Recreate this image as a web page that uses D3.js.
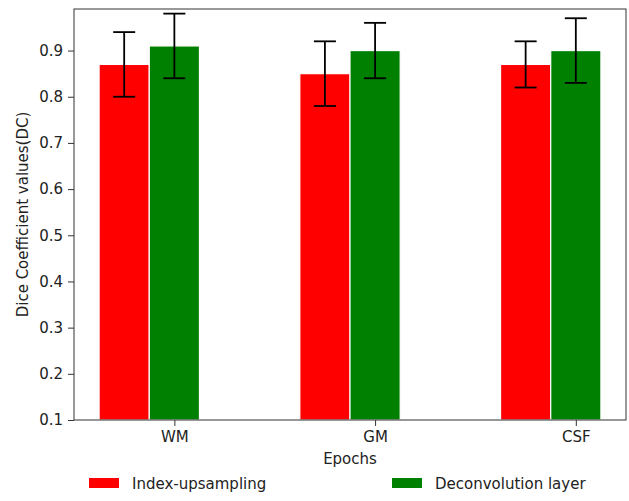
<!DOCTYPE html>
<html><head><meta charset="utf-8">
<script src="https://cdn.jsdelivr.net/npm/d3@7"></script>
<style>body{margin:0;background:#fff}svg{display:block}text{font-family:"DejaVu Sans",sans-serif;fill:#222}</style>
</head><body>
<script>
const categories = ["WM", "GM", "CSF"];
const seriesNames = ["Index-upsampling", "Deconvolution layer"];
const seriesColors = ["#ff0000", "#008000"];
const indexUpsampling = [0.87, 0.85, 0.87];
const indexUpsamplingErr = [0.07, 0.07, 0.05];
const deconvolution = [0.91, 0.90, 0.90];
const deconvolutionErr = [0.07, 0.06, 0.07];
const yTicks = [0.1, 0.2, 0.3, 0.4, 0.5, 0.6, 0.7, 0.8, 0.9];

const W = 629, H = 501;
const m = {left: 74, right: 626, top: 9, bottom: 420};
const barW = 0.25;
const svg = d3.select("body").append("svg").attr("width", W).attr("height", H);

const x = d3.scaleLinear().domain([-0.25, 2.5]).range([m.left, m.right]);
const y = d3.scaleLinear().domain([0.1, 0.99]).range([m.bottom, m.top]);

const series = [
  {vals: indexUpsampling, err: indexUpsamplingErr, off: 0, color: seriesColors[0]},
  {vals: deconvolution, err: deconvolutionErr, off: barW, color: seriesColors[1]}
];

const g = svg.append("g");
series.forEach(s => {
  g.selectAll(null).data(s.vals).enter().append("rect")
    .attr("x", (d, i) => x(i + s.off - barW / 2))
    .attr("width", x(barW) - x(0))
    .attr("y", d => y(d))
    .attr("height", d => y(0.1) - y(d))
    .attr("fill", s.color)
    .attr("stroke", "#fff").attr("stroke-width", 1.2);
});
series.forEach(s => {
  s.vals.forEach((d, i) => {
    const cx = x(i + s.off);
    const lo = y(d - s.err[i]), hi = y(d + s.err[i]);
    g.append("line").attr("x1", cx).attr("x2", cx).attr("y1", lo).attr("y2", hi)
      .attr("stroke", "#000").attr("stroke-width", 1.8);
    [lo, hi].forEach(yy => g.append("line").attr("x1", cx - 11).attr("x2", cx + 11)
      .attr("y1", yy).attr("y2", yy).attr("stroke", "#000").attr("stroke-width", 1.8));
  });
});

// frame
svg.append("rect").attr("x", m.left).attr("y", m.top)
  .attr("width", m.right - m.left).attr("height", m.bottom - m.top)
  .attr("fill", "none").attr("stroke", "#333").attr("stroke-width", 1);

// y axis
const yAxis = svg.append("g").attr("transform", `translate(${m.left},0)`)
  .call(d3.axisLeft(y).tickValues(yTicks).tickFormat(d3.format(".1f")).tickSize(6).tickPadding(5));
yAxis.select(".domain").remove();
yAxis.selectAll("line").attr("stroke", "#333");
yAxis.selectAll("text").style("font-size", "15px").attr("fill", "#222").style("font-family", "DejaVu Sans");

// x axis
const xAxis = svg.append("g").attr("transform", `translate(0,${m.bottom})`)
  .call(d3.axisBottom(x).tickValues([0 + barW, 1 + barW, 2 + barW])
    .tickFormat((d, i) => categories[i]).tickSize(6).tickPadding(5));
xAxis.select(".domain").remove();
xAxis.selectAll("line").attr("stroke", "#333");
xAxis.selectAll("text").style("font-size", "15px").attr("fill", "#222").style("font-family", "DejaVu Sans");

// axis titles
svg.append("text").attr("x", 350).attr("y", 464).attr("text-anchor", "middle")
  .style("font-size", "15px").text("Epochs");
svg.append("text").attr("transform", `translate(28,${(m.top + m.bottom) / 2}) rotate(-90)`)
  .attr("text-anchor", "middle").style("font-size", "15px").text("Dice Coefficient values(DC)");

// legend
const legX = [89, 392];
seriesNames.forEach((n, i) => {
  svg.append("rect").attr("x", legX[i]).attr("y", 478).attr("width", 30).attr("height", 10)
    .attr("fill", seriesColors[i]);
  svg.append("text").attr("x", legX[i] + 43).attr("y", 489).style("font-size", "15px").text(n);
});
</script>
</body></html>
